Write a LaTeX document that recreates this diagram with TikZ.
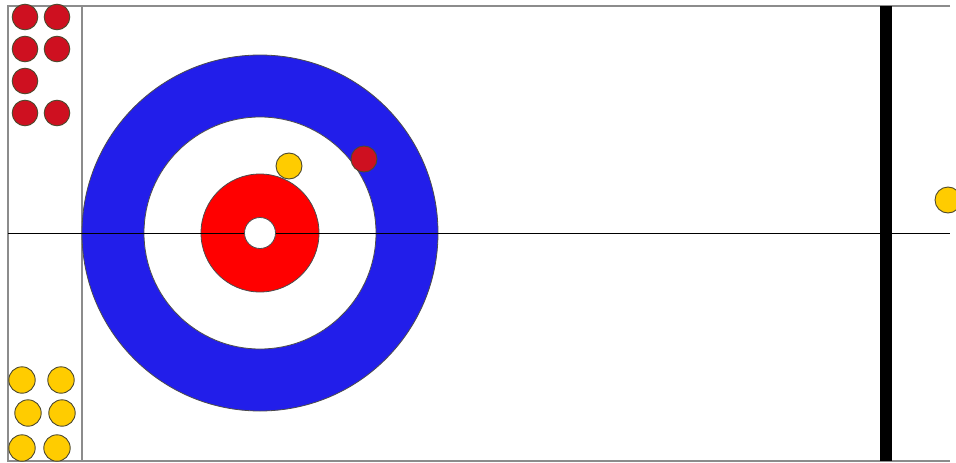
\documentclass[tikz,border=0pt]{standalone}
\usepackage{xcolor}
\definecolor{houseblue}{RGB}{34,30,234}
\definecolor{housered}{RGB}{255,0,0}
\definecolor{stonered}{RGB}{206,16,32}
\definecolor{stoneyellow}{RGB}{255,204,0}
\definecolor{sheetgrey}{RGB}{140,140,140}
\begin{document}
\begin{tikzpicture}[
  x=1pt, y=-1pt,
  sideline/.style={draw=sheetgrey, line width=1.2pt},
  ring/.style={draw=black!70, line width=0.8pt},
  stone/.style={draw=black!60!olive, line width=0.9pt},
  redstone/.style={stone, fill=stonered},
  yellowstone/.style={stone, fill=stoneyellow}
]
  \useasboundingbox (0,0) rectangle (956,463);

  % Sheet outline
  \draw[sideline] (950,6) -- (8,6) -- (8,461) -- (950,461);
  \draw[sideline] (82,6) -- (82,461);

  % House
  \filldraw[ring, fill=houseblue] (260,233) circle (178pt);
  \filldraw[ring, fill=white] (260,233) circle (116pt);
  \filldraw[ring, fill=housered] (260,233) circle (59pt);

  % Centre line
  \draw[black, line width=1pt] (8,233) -- (950,233);

  % Button
  \filldraw[ring, fill=white] (260,233) circle (15.5pt);

  % Hog line
  \fill[black] (880,6) rectangle (892,461);

  % Stones waiting to be thrown
  \foreach \sx/\sy in {25/17, 57/17, 25/49, 57/49, 25/81, 25/113, 57/113}
    \filldraw[redstone] (\sx,\sy) circle (12.8pt);
  \foreach \sx/\sy in {22/380, 61/380, 28/413, 62/413, 22/448, 57/448}
    \filldraw[yellowstone] (\sx,\sy) circle (13.2pt);

  % Stones in play
  \filldraw[redstone] (364,159) circle (13pt);
  \filldraw[yellowstone] (289,166) circle (13pt);
  \filldraw[yellowstone] (948,200) circle (13pt);
\end{tikzpicture}
\end{document}
